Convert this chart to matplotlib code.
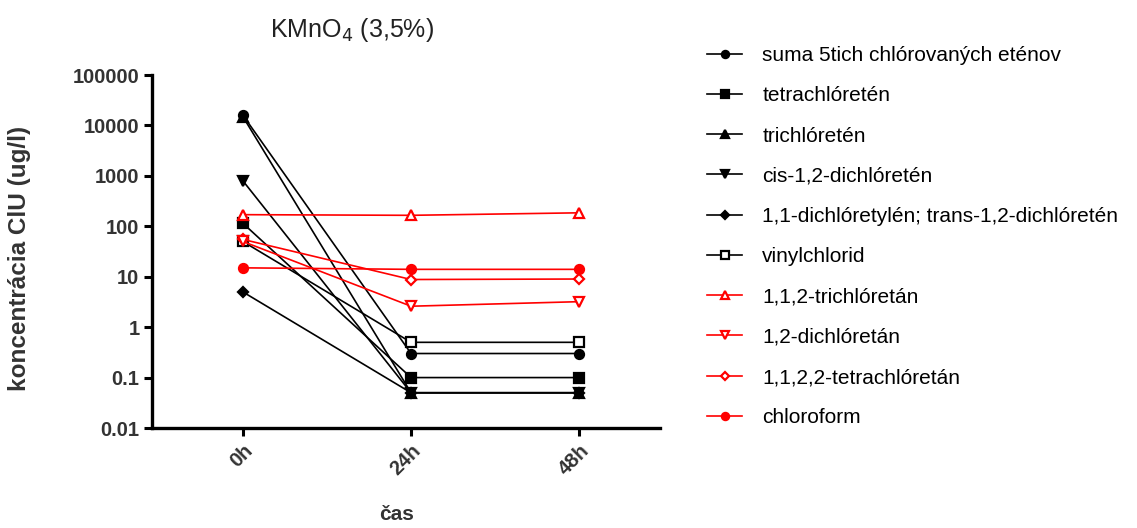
import numpy as np
import matplotlib.pyplot as plt

plt.rcParams['font.family'] = ['Liberation Sans', 'DejaVu Sans']

times = ['0h', '24h', '48h']

suma = [16000, 0.3, 0.3]
tetrachloreten = [115, 0.1, 0.1]
trichloreten = [15000, 0.05, 0.05]
cis_dce = [800, 0.05, 0.05]
dce_11 = [5, 0.05, 0.05]
vinylchlorid = [50, 0.5, 0.5]
tca_112 = [170, 165, 185]
dca_12 = [50, 2.6, 3.2]
pca_1122 = [55, 8.8, 9]
chloroform = [15, 14, 14]

# name, values, marker, colour, face colour, zorder
series = [
    ('suma 5tich chlórovaných eténov', suma, 'o', 'black', 'black', 2.9),
    ('tetrachlóretén', tetrachloreten, 's', 'black', 'black', 2.8),
    ('trichlóretén', trichloreten, '^', 'black', 'black', 2.1),
    ('cis-1,2-dichlóretén', cis_dce, 'v', 'black', 'black', 2.2),
    ('1,1-dichlóretylén; trans-1,2-dichlóretén', dce_11, 'D', 'black', 'black', 2.3),
    ('vinylchlorid', vinylchlorid, 's', 'black', 'white', 2.4),
    ('1,1,2-trichlóretán', tca_112, '^', 'red', 'white', 3.4),
    ('1,2-dichlóretán', dca_12, 'v', 'red', 'white', 3.3),
    ('1,1,2,2-tetrachlóretán', pca_1122, 'D', 'red', 'white', 3.2),
    ('chloroform', chloroform, 'o', 'red', 'red', 3.1),
]

fig = plt.figure(figsize=(11.37, 5.28), dpi=100)
ax = fig.add_axes([152/1137, 100/528, (660-152)/1137, (428-75)/528])

x = np.arange(len(times))
for name, vals, m, c, fc, z in series:
    ms = 5.5 if m == 'D' else 6.5
    ax.plot(x, vals, marker=m, color=c, mfc=fc, mec=c, mew=1.6, ms=ms,
            lw=1.2, label=name, zorder=z)

ax.set_yscale('log')
ax.set_ylim(0.01, 100000)
ax.set_xlim(-0.54, 2.48)
ax.set_yticks([0.01, 0.1, 1, 10, 100, 1000, 10000, 100000])
ax.set_yticklabels(['0.01', '0.1', '1', '10', '100', '1000', '10000', '100000'])
ax.minorticks_off()
ax.set_xticks(x)
ax.set_xticklabels(times, rotation=45, ha='right', rotation_mode='anchor')

for s in ['top', 'right']:
    ax.spines[s].set_visible(False)
for s in ['left', 'bottom']:
    ax.spines[s].set_linewidth(2.4)
ax.tick_params(width=2.2, length=6, labelsize=14.5, pad=3)
for lab in ax.get_xticklabels() + ax.get_yticklabels():
    lab.set_fontweight('bold')
    lab.set_color('#333333')

fig.text(352/1137, 1 - 30/528, 'KMnO$_4$ (3,5%)', ha='center', va='center',
         fontsize=18, color='#222222')
fig.text(20/1137, 1 - 258/528, 'koncentrácia ClU (ug/l)', rotation=90,
         ha='center', va='center', fontsize=17.5, fontweight='bold',
         color='#333333')
fig.text(397/1137, 1 - 515/528, 'čas', ha='center', va='center',
         fontsize=15, fontweight='bold', color='#333333')

ax.legend(loc='upper left', bbox_to_anchor=(707/1137, 1 - 46/528),
          bbox_transform=fig.transFigure, frameon=False, fontsize=15,
          handlelength=1.7, handletextpad=0.95, labelspacing=1.02,
          borderpad=0, borderaxespad=0, markerscale=0.8)

fig.savefig('out.png', dpi=100)
